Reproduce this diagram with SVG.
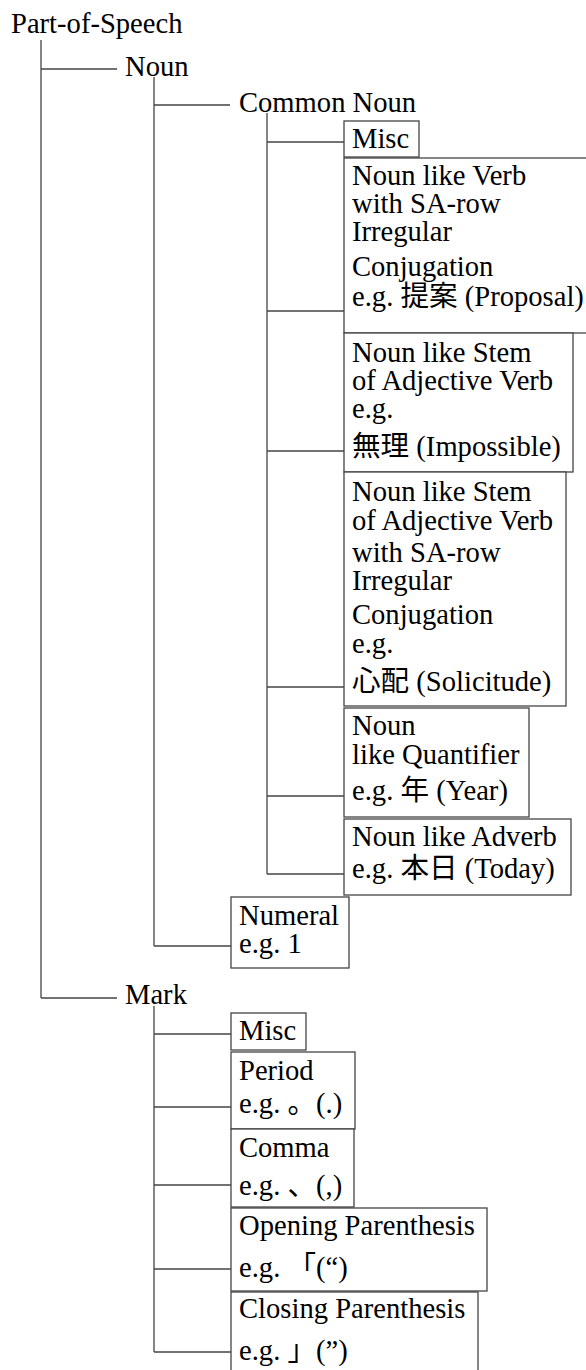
<svg xmlns="http://www.w3.org/2000/svg" width="586" height="1370" viewBox="0 0 586 1370">
<style>
text{font-family:"Liberation Serif","Noto Sans CJK JP",serif;font-size:28.6px;fill:#000}
.box{fill:#fff;stroke:#444;stroke-width:1.3}
.ln{fill:none;stroke:#444;stroke-width:1.3}
</style>
<rect width="586" height="1370" fill="#fff"/>
<g id="connectors" class="ln">
<path d="M41,40V998M41,69H117M41,998H117"/>
<path d="M154,77V946M154,105H230M154,946H231"/>
<path d="M267,113V874M267,142H344M267,311H344M267,451H344M267,687H344M267,796H344M267,874H344"/>
<path d="M154,1006V1352M154,1034H231M154,1107H231M154,1185H231M154,1269H231M154,1352H231"/>
</g>
<g id="n-pos"><text x="11" y="33">Part-of-Speech</text></g>
<g id="n-noun"><text x="125" y="76">Noun</text></g>
<g id="n-common"><text x="239" y="112">Common Noun</text></g>
<g id="n-misc1"><rect class="box" x="344" y="121" width="75" height="36"/><text x="352" y="148">Misc</text></g>
<g id="n-verb"><rect class="box" x="344" y="158" width="260" height="175"/>
<text x="352" y="185">Noun like Verb</text><text x="352" y="213">with SA-row</text><text x="352" y="241">Irregular</text><text x="352" y="276">Conjugation</text><text x="352" y="306">e.g. 提案 (Proposal)</text></g>
<g id="n-stem"><rect class="box" x="344" y="333" width="229" height="139"/>
<text x="352" y="362">Noun like Stem</text><text x="352" y="390">of Adjective Verb</text><text x="352" y="418">e.g.</text><text x="352" y="456">無理 (Impossible)</text></g>
<g id="n-stemsa"><rect class="box" x="344" y="472" width="222" height="234"/>
<text x="352" y="501">Noun like Stem</text><text x="352" y="530">of Adjective Verb</text><text x="352" y="562">with SA-row</text><text x="352" y="590">Irregular</text><text x="352" y="624">Conjugation</text><text x="352" y="653">e.g.</text><text x="352" y="691">心配 (Solicitude)</text></g>
<g id="n-quant"><rect class="box" x="344" y="708" width="185" height="109"/>
<text x="352" y="735">Noun</text><text x="352" y="764">like Quantifier</text><text x="352" y="800">e.g. 年 (Year)</text></g>
<g id="n-adverb"><rect class="box" x="344" y="819" width="227" height="76"/>
<text x="352" y="846">Noun like Adverb</text><text x="352" y="878">e.g. 本日 (Today)</text></g>
<g id="n-numeral"><rect class="box" x="231" y="897" width="118" height="71"/>
<text x="239" y="925">Numeral</text><text x="239" y="953">e.g. 1</text></g>
<g id="n-mark"><text x="125" y="1004">Mark</text></g>
<g id="n-misc2"><rect class="box" x="231" y="1013" width="75" height="37"/><text x="239" y="1040">Misc</text></g>
<g id="n-period"><rect class="box" x="231" y="1052" width="124" height="77"/>
<text x="239" y="1080">Period</text><text x="239" y="1113">e.g. 。(.)</text></g>
<g id="n-comma"><rect class="box" x="231" y="1129" width="123" height="78"/>
<text x="239" y="1157">Comma</text><text x="239" y="1195">e.g. 、(,)</text></g>
<g id="n-open"><rect class="box" x="231" y="1208" width="256" height="83"/>
<text x="239" y="1235">Opening Parenthesis</text><text x="239" y="1277">e.g. 「(“)</text></g>
<g id="n-close"><rect class="box" x="231" y="1292" width="247" height="90"/>
<text x="239" y="1318">Closing Parenthesis</text><text x="239" y="1360">e.g. 」(”)</text></g>
</svg>
